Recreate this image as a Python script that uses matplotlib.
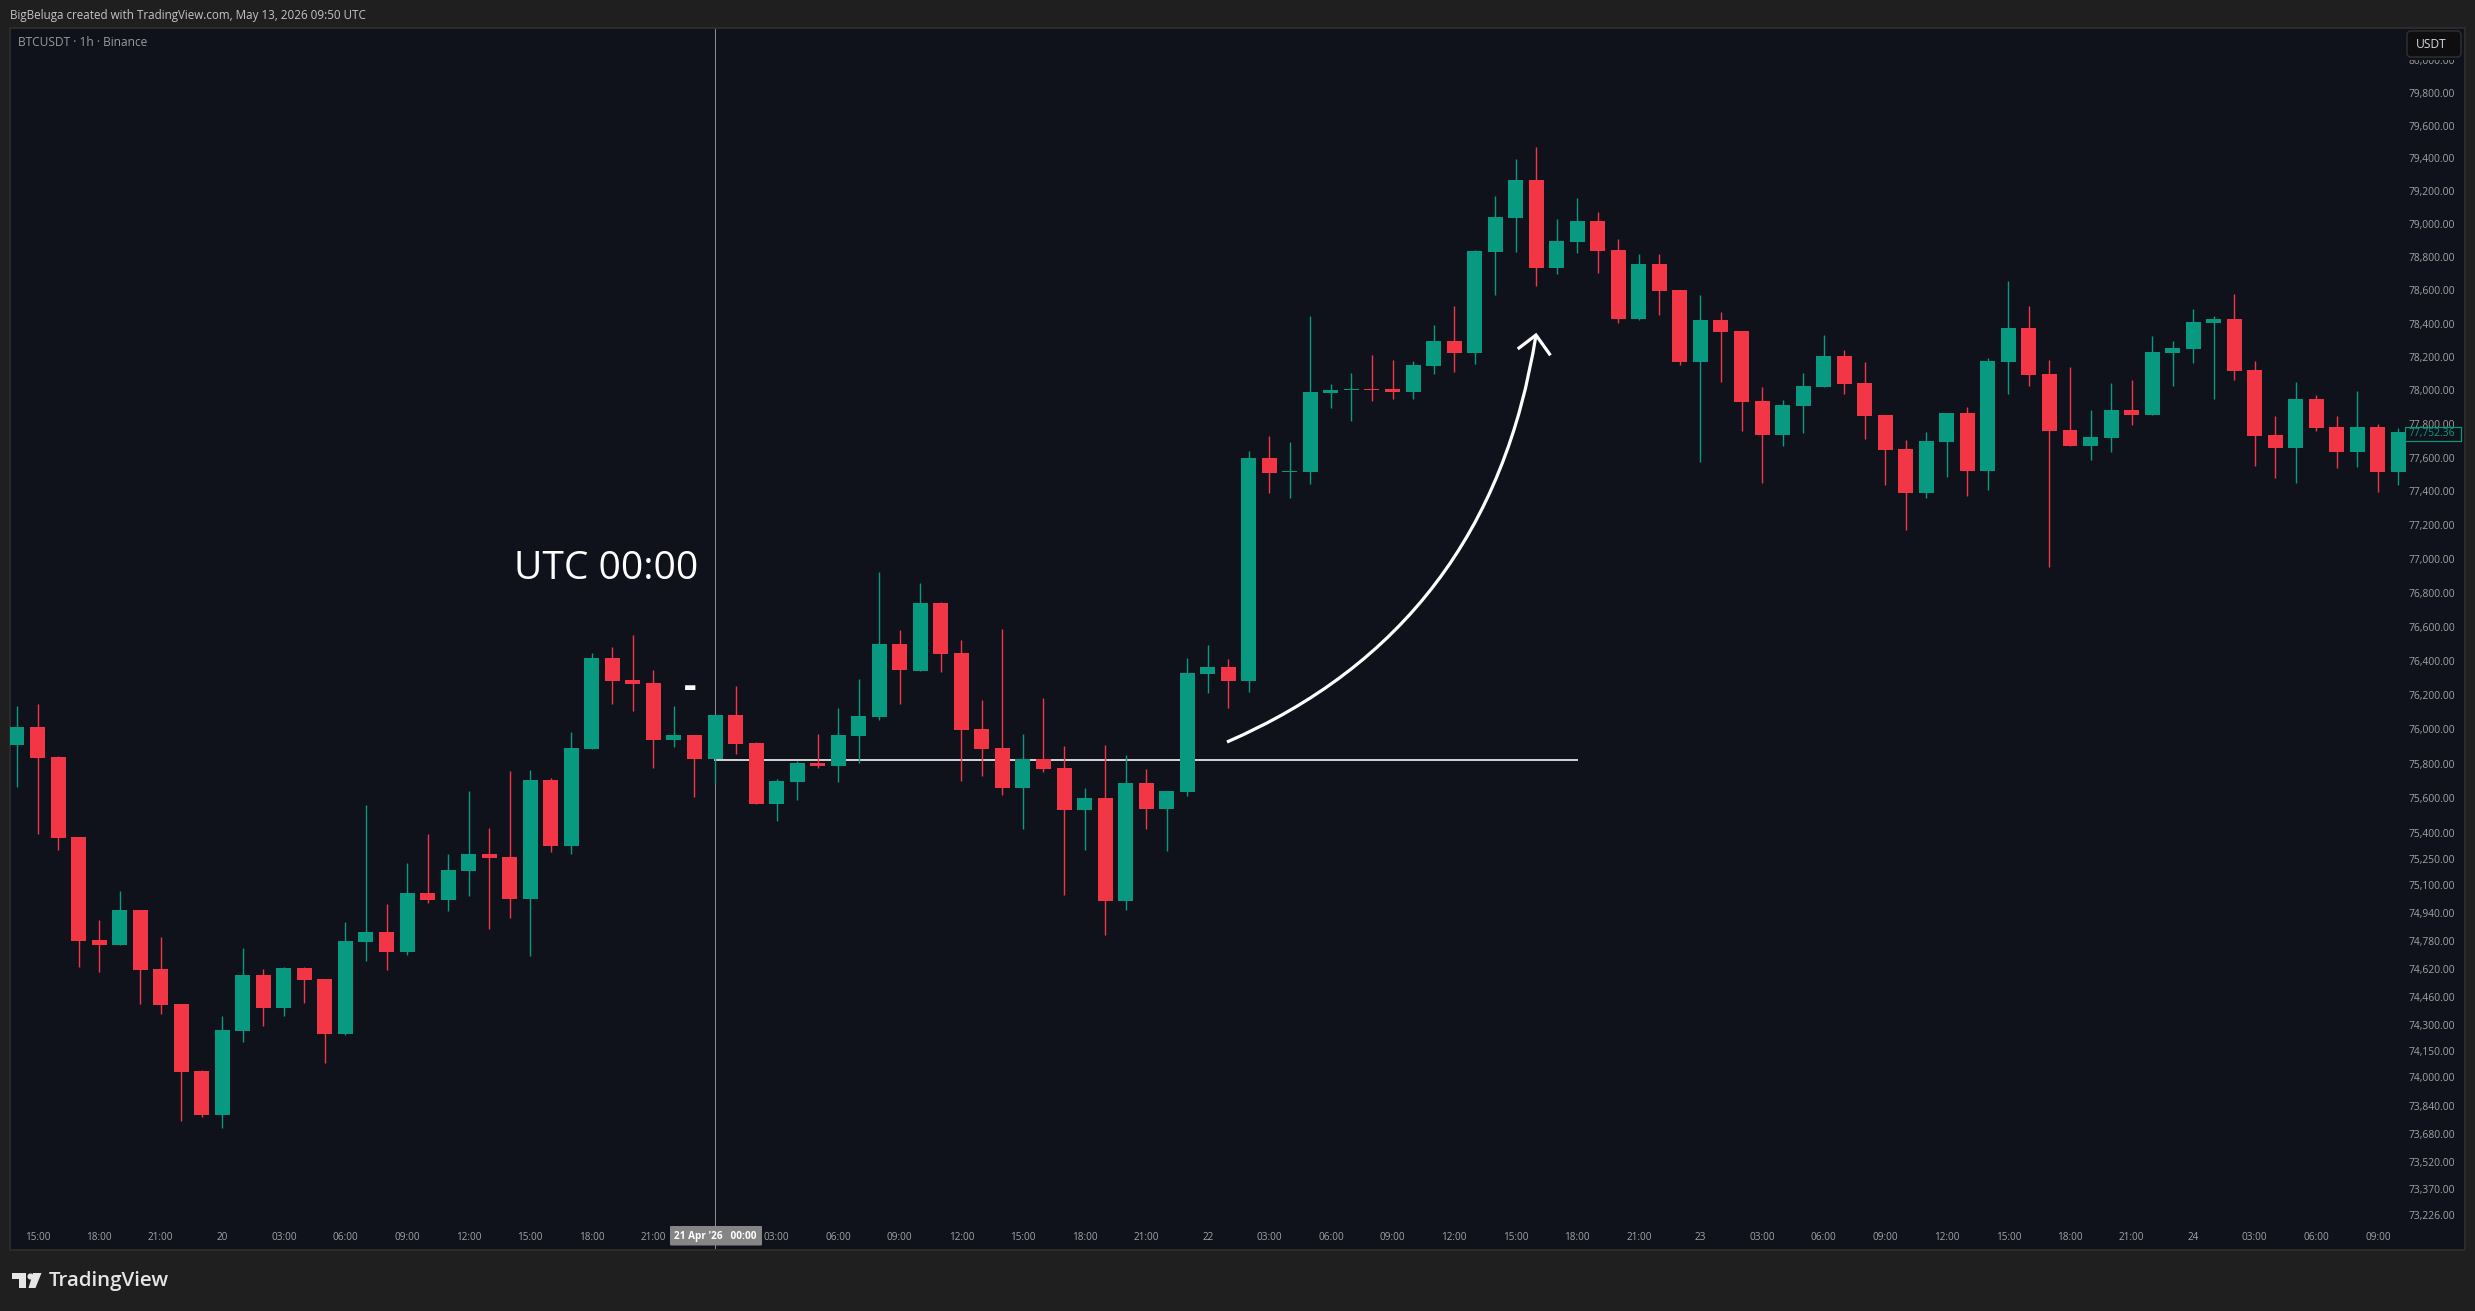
import matplotlib
matplotlib.use('Agg')
import matplotlib.pyplot as plt
from matplotlib.patches import Rectangle, FancyBboxPatch, PathPatch, Polygon
from matplotlib.path import Path
from matplotlib.ticker import NullLocator, NullFormatter

plt.rcParams['font.family'] = ['Open Sans', 'DejaVu Sans']

# BTCUSDT 1h candles, bar 0 = 19 Apr 14:00
opens = [75909, 76014, 75839, 75376, 74783, 74755, 74956, 74617, 74417, 74037,
         73787, 74264, 74583, 74395, 74623, 74560, 74247, 74772, 74829, 74715,
         75053, 75013, 75180, 75278, 75261, 75019, 75706, 75324, 75886, 76417,
         76288, 76271, 75938, 75967, 75828, 76084, 75921, 75567, 75694, 75805,
         75787, 75961, 76072, 76499, 76341, 76739, 76446, 76002, 75892, 75660,
         75828, 75776, 75532, 75602, 75007, 75689, 75538, 75636, 76323, 76364,
         76282, 77597, 77514, 77514, 77985, 78003, 78009, 78009, 77991, 78146,
         78296, 78224, 78831, 79037, 79267, 78735, 78891, 79019, 78843, 78428,
         78759, 78602, 78170, 78422, 78356, 77937, 77734, 77907, 78021, 78206,
         78045, 77854, 77651, 77390, 77693, 77866, 77520, 78170, 78374, 78098,
         77764, 77669, 77717, 77883, 77854, 78224, 78248, 78404, 78428, 78122,
         77734, 77657, 77949, 77782, 77633, 77782, 77514]
highs = [76136, 76148, 75845, 75376, 74898, 75065, 74956, 74801, 74417, 74042,
         74349, 74737, 74617, 74629, 74629, 74560, 74887, 75561, 74990, 75226,
         75393, 75278, 75642, 75428, 75758, 75764, 75718, 75985, 76446, 76482,
         76552, 76347, 76136, 75967, 76084, 76253, 75927, 75712, 75816, 75973,
         76124, 76294, 76922, 76581, 76857, 76745, 76523, 76171, 76587, 75973,
         76183, 75903, 75660, 75909, 75851, 75770, 75642, 76417, 76493, 76411,
         77639, 77728, 77693, 78446, 78039, 78104, 78212, 78182, 78176, 78392,
         78506, 78843, 79170, 79394, 79467, 79031, 79158, 79073, 78909, 78819,
         78819, 78602, 78572, 78470, 78356, 78021, 77943, 78104, 78332, 78242,
         78170, 77854, 77705, 77752, 77866, 77901, 78194, 78656, 78506, 78182,
         78140, 77883, 78045, 78063, 78326, 78296, 78488, 78446, 78578, 78176,
         77848, 78051, 77973, 77848, 77997, 77800, 77776]
lows = [75667, 75395, 75301, 74631, 74602, 74755, 74419, 74362, 73755, 73778,
        73716, 74203, 74294, 74351, 74425, 74084, 74241, 74665, 74614, 74699,
        74998, 74952, 75038, 74849, 74912, 74694, 75291, 75280, 75886, 76148,
        76107, 75776, 75897, 75607, 75683, 75857, 75567, 75469, 75590, 75776,
        75694, 75805, 76054, 76148, 76341, 76335, 75700, 75729, 75619, 75422,
        75752, 75042, 75301, 74812, 74955, 75422, 75295, 75613, 76212, 76124,
        76218, 77390, 77360, 77443, 77895, 77818, 77937, 77949, 77949, 78098,
        78110, 78158, 78572, 78831, 78626, 78699, 78825, 78705, 78404, 78422,
        78452, 78152, 77574, 78051, 77758, 77449, 77669, 77746, 78021, 77979,
        77711, 77437, 77170, 77360, 77485, 77372, 77407, 77979, 78027, 76952,
        77669, 77586, 77633, 77794, 77854, 78027, 78164, 77949, 78063, 77550,
        77479, 77449, 77758, 77538, 77544, 77396, 77437]
closes = [76014, 75836, 75372, 74778, 74755, 74956, 74612, 74412, 74031, 73787,
          74269, 74583, 74395, 74623, 74554, 74247, 74778, 74829, 74715, 75053,
          75013, 75186, 75278, 75255, 75019, 75706, 75324, 75892, 76417, 76282,
          76265, 75938, 75967, 75828, 76084, 75915, 75567, 75700, 75805, 75787,
          75967, 76078, 76499, 76347, 76739, 76441, 75996, 75886, 75660, 75828,
          75770, 75532, 75602, 75007, 75689, 75538, 75642, 76329, 76364, 76282,
          77597, 77508, 77520, 77991, 78003, 78009, 78003, 77991, 78152, 78296,
          78224, 78837, 79043, 79267, 78735, 78897, 79019, 78837, 78428, 78759,
          78596, 78170, 78422, 78350, 77931, 77734, 77913, 78027, 78206, 78039,
          77848, 77645, 77390, 77699, 77866, 77520, 78177, 78374, 78092, 77758,
          77669, 77722, 77883, 77854, 78230, 78254, 78410, 78428, 78116, 77728,
          77657, 77949, 77776, 77633, 77782, 77514, 77752.36]

price_ticks = [80000, 79800, 79600, 79400, 79200, 79000, 78800, 78600, 78400, 78200,
               78000, 77800, 77600, 77400, 77200, 77000, 76800, 76600, 76400, 76200,
               76000, 75800, 75600, 75400, 75250, 75100, 74940, 74780, 74620, 74460,
               74300, 74150, 74000, 73840, 73680, 73520, 73370, 73226]
time_bars = [1, 4, 7, 10, 13, 16, 19, 22, 25, 28, 31, 34, 37, 40, 43, 46, 49, 52, 55, 58,
             61, 64, 67, 70, 73, 76, 79, 82, 85, 88, 91, 94, 97, 100, 103, 106, 109, 112, 115]
time_labels = ['15:00', '18:00', '21:00', '20', '03:00', '06:00', '09:00', '12:00', '15:00', '18:00',
               '21:00', '21', '03:00', '06:00', '09:00', '12:00', '15:00', '18:00', '21:00', '22',
               '03:00', '06:00', '09:00', '12:00', '15:00', '18:00', '21:00', '23', '03:00', '06:00',
               '09:00', '12:00', '15:00', '18:00', '21:00', '24', '03:00', '06:00', '09:00']
session_bar = 34
session_open = 75825

UP = '#089981'
DOWN = '#F23645'
PANE = '#0F121A'
BG = '#1F1F1F'
BORDER = '#2B2B2B'
TICK = '#A3A3A3'
PX = 0.72  # one pixel in points at dpi 100

W, H = 2475, 1311
fig = plt.figure(figsize=(W / 100, H / 100), dpi=100, facecolor=BG)
L, T, R, B = 10, 28, 2465, 1250
ax = fig.add_axes([L / W, 1 - B / H, (R - L) / W, (B - T) / H], facecolor=PANE)

ax.set_yscale('log')
colors = [UP if c >= o else DOWN for o, c in zip(opens, closes)]
bars = range(len(opens))
ax.vlines(bars, lows, highs, colors=colors, linewidth=1.4 * PX, zorder=3)
ax.bar(bars, [abs(c - o) for o, c in zip(opens, closes)], bottom=[min(o, c) for o, c in zip(opens, closes)],
       width=0.73, color=colors, linewidth=0, zorder=4)

ax.axvline(session_bar, color='#8A8D96', linewidth=1.0 * PX, zorder=2)
ax.hlines(session_open, 33.95, 76.03, color='white', linewidth=1.6 * PX, zorder=2)

ax.set_xlim(-0.34, 119.24)
ax.set_ylim(73028, 80197)
ax.yaxis.set_minor_locator(NullLocator())
ax.yaxis.set_minor_formatter(NullFormatter())
ax.set_yticks(price_ticks, [f'{p:,.2f}' for p in price_ticks])
ax.set_xticks(time_bars, time_labels)
ax.tick_params(axis='y', which='both', length=0, left=False, right=False, labelleft=False, labelright=True,
               pad=-10 * PX, labelsize=10.2 * PX, labelcolor=TICK)
ax.tick_params(axis='x', length=0, pad=-18 * PX, labelsize=10 * PX, labelcolor=TICK)
for lab in ax.get_yticklabels():
    lab.set_ha('right')
for s in ax.spines.values():
    s.set_color(BORDER)
    s.set_linewidth(2 * PX)

# chrome and drawings, in picture pixels
over = fig.add_axes([0, 0, 1, 1], zorder=5)
over.set_xlim(0, W)
over.set_ylim(H, 0)
over.axis('off')

over.text(10, 15, 'BigBeluga created with TradingView.com, May 13, 2026 09:50 UTC', color='#C4C4C4',
          fontsize=11.65 * PX, va='center')
over.text(18, 42.5, 'BTCUSDT · 1h · Binance', color='#9A9A9A', fontsize=11.9 * PX, va='center')

# the button hides the top of the 80,000 label
over.add_patch(Rectangle((2400, 56), 62, 3.5, facecolor=PANE, edgecolor='none'))
over.add_patch(FancyBboxPatch((2410, 34), 48, 20, boxstyle='round,pad=3,rounding_size=4',
                              facecolor='#0E0E10', edgecolor='#2E2E2E', linewidth=1.5 * PX))
over.text(2416, 44.5, 'USDT', color='#D8D8D8', fontsize=12 * PX, va='center')

over.add_patch(Rectangle((2404.5, 426.5), 56, 14, facecolor=PANE, edgecolor=UP, linewidth=1.2 * PX))
over.text(2455, 433.5, f'{closes[-1]:,.2f}', color=UP, fontsize=10.2 * PX, ha='right', va='center')

over.add_patch(FancyBboxPatch((670, 1226), 92, 19.5, boxstyle='round,pad=0,rounding_size=1',
                              facecolor='#858585', edgecolor='none'))
over.text(715.5, 1236.5, "21 Apr '26   00:00", color='white', fontsize=10 * PX, fontweight='bold',
          ha='center', va='center')

over.text(513.5, 579, 'UTC 00:00', color='white', fontsize=39 * PX, va='baseline')
over.text(690, 698, '-', color='white', fontsize=39 * PX, fontweight='bold', ha='center', va='baseline')

curve = Path([(1227, 742), (1490, 628), (1536, 335)], [Path.MOVETO, Path.CURVE3, Path.CURVE3])
over.add_patch(PathPatch(curve, facecolor='none', edgecolor='white', linewidth=3.2 * PX, capstyle='butt'))
over.plot([1519, 1536, 1549.5], [348, 335, 354], color='white', linewidth=3.2 * PX, solid_joinstyle='miter')

# TradingView logo
logo = '#E6E6E6'
over.add_patch(Polygon([(11.5, 1273), (26, 1273), (26, 1288), (19, 1288), (19, 1278.5), (11.5, 1278.5)],
                       facecolor=logo, edgecolor='none'))
over.add_patch(Polygon([(33, 1273), (41.5, 1273), (35.5, 1288), (28.5, 1288)], facecolor=logo, edgecolor='none'))
over.plot([30], [1275.5], 'o', color=logo, markersize=3.4)
over.text(49, 1281, 'TradingView', color=logo, fontsize=20.5 * PX, fontweight='semibold', va='center')

fig.savefig('out.png', dpi=100, facecolor=BG)
